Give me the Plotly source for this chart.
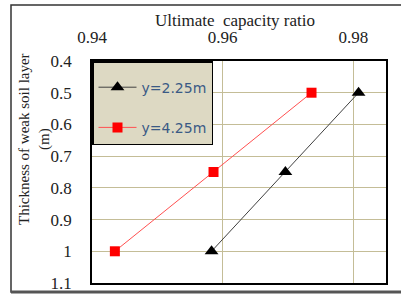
import plotly.graph_objects as go

thickness = [0.5, 0.75, 1.0]
ratio_225 = [0.9808, 0.9696, 0.9583]
ratio_425 = [0.9736, 0.9586, 0.9435]
names = ["y=2.25m", "y=4.25m"]
x_ticks = [0.94, 0.96, 0.98]
x_tick_text = ["0.94", "0.96", "0.98"]
y_ticks = [0.4, 0.5, 0.6, 0.7, 0.8, 0.9, 1.0, 1.1]
y_tick_text = ["0.4", "0.5", "0.6", "0.7", "0.8", "0.9", "1", "1.1"]

fig = go.Figure()
fig.add_trace(go.Scatter(
    x=ratio_225, y=thickness, name=names[0], mode="lines+markers",
    line=dict(color="#404040", width=1),
    marker=dict(symbol="triangle-up", size=12, color="black"),
    legendgroup="a"))
fig.add_trace(go.Scatter(
    x=ratio_425, y=thickness, name=names[1], mode="lines+markers",
    line=dict(color="#ff5050", width=1),
    marker=dict(symbol="square", size=10, color="red"),
    legendgroup="b"))

L, T, R, B = 92, 61, 15, 11
W, H = 401, 294
pw, ph = W - L - R, H - T - B

def px(x):
    return (x - L) / pw

def py(y):
    return (H - B - y) / ph

fig.update_layout(
    width=W, height=H,
    margin=dict(l=L, r=R, t=T, b=B, pad=0, autoexpand=False),
    paper_bgcolor="white", plot_bgcolor="white",
    font=dict(family="Liberation Serif, Times New Roman, serif", size=16, color="#222"),
    showlegend=True,
    legend=dict(
        x=0, y=1, xanchor="left", yanchor="top",
        bgcolor="#ddd9c3", bordercolor="black", borderwidth=1.5,
        font=dict(family="DejaVu Sans, Verdana, sans-serif", size=14, color="#3a5a85"),
        traceorder="grouped", tracegroupgap=19,
        itemwidth=38,
        title=dict(text=" ", font=dict(size=7)),
    ),
    xaxis=dict(
        side="top", range=[0.94, 0.985], tickvals=x_ticks, ticktext=x_tick_text,
        showgrid=True, gridcolor="#c4bd97", gridwidth=1,
        showline=True, linecolor="black", linewidth=1.5, mirror=True,
        ticks="", zeroline=False, automargin=False, ticklabelstandoff=9,
        tickfont=dict(size=17),
    ),
    yaxis=dict(
        range=[1.1, 0.4], tickvals=y_ticks, ticktext=y_tick_text,
        showgrid=True, gridcolor="#c4bd97", gridwidth=1,
        showline=True, linecolor="black", linewidth=1.5, mirror=True,
        ticks="", zeroline=False, automargin=False, ticklabelstandoff=15,
        tickfont=dict(size=17),
    ),
    shapes=[
        dict(type="rect", xref="paper", yref="paper",
             x0=px(11), x1=px(403), y0=py(292), y1=py(5),
             line=dict(color="#333", width=1.5), layer="below"),
        dict(type="line", xref="paper", yref="paper",
             x0=px(11), x1=px(403), y0=py(292), y1=py(292),
             line=dict(color="#555", width=3)),
    ],
    annotations=[
        dict(text="Ultimate  capacity ratio", xref="paper", yref="paper",
             x=px(235), y=py(20), xanchor="center", yanchor="middle",
             showarrow=False, font=dict(size=17)),
        dict(text="Thickness of weak soil layer<br>(m)", xref="paper", yref="paper",
             x=px(34), y=py(139), xanchor="center", yanchor="middle",
             showarrow=False, textangle=-90, font=dict(size=15)),
    ],
)

fig.write_html("out.html", config={"displayModeBar": False},
               post_script="document.body.style.margin='0';document.body.style.overflow='hidden';")
